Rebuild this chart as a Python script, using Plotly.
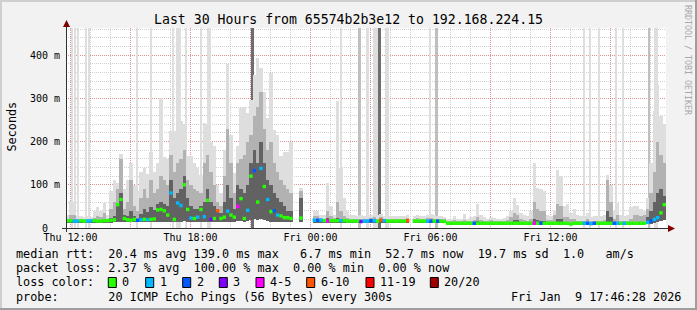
import plotly.graph_objects as go
import pandas as pd

# ---------------- data (10-minute bins, ms) ----------------
START = "2026-01-08 11:46:28"
END = "2026-01-09 17:46:28"

median_ms = [
    17, 17, 16, 16, 17, 16, 16, 17, 17, 16,
    16, 17, 17, 18, 19, 54, 66, 22, 19, 18,
    20, 18, 19, 20, 19, 20, 21, 42, 43, 40,
    30, 81, 20, 58, 52, 100, 43, 23, 22, 25,
    43, 26, 64, 20, 22, 40, 22, 25, 39, 30,
    25, 50, 68, 22, 41, 120, 133, 60, 138, 96,
    66, 38, 40, 30, 28, 24, 24, 22, None, None,
    23, None, None, None, 18, 18, 18, 17, 16, 17,
    17, 17, 17, 17, 16, 16, 16, 16, 15, 16,
    16, 17, 17, 16, 18, 17, 16, 16, 16, 16,
    16, 16, 17, None, 16, 16, 16, 16, 16, 16,
    16, 16, 16, 15, 11, 11, 11, 11, 11, 11,
    11, 11, 11, 11, 11, 11, 11, 11, 11, 11,
    11, 11, 11, 11, 11, 11, 11, 11, 11, 11,
    11, 11, 11, 11, 11, 11, 11, 11, 11, 11,
    11, 9, 11, 11, 11, 11, 11, 10, 11, 11,
    11, 11, 11, 11, 11, 11, 11, 11, 11, 11,
    11, 11, 11, 11, 13, 16, 20, 24, 35, 54,
]

loss_count = [
    0, 0, 1, 1, 0, 0, 1, 1, 0, 0,
    0, 0, 0, 0, 0, 0, 0, 0, 0, 0,
    0, 2, 1, 0, 1, 0, 0, 0, 0, 0,
    0, 1, 0, 1, 1, 0, 0, 1, 0, 1,
    0, 1, 0, 3, 0, 7, 0, 0, 1, 0,
    0, 4, 0, 0, 1, 0, 2, 0, 1, 0,
    1, 0, 2, 1, 0, 0, 0, 0, 0, 0,
    0, 0, 0, 0, 1, 2, 1, 0, 4, 0,
    0, 0, 1, 0, 0, 0, 0, 0, 3, 1,
    1, 2, 1, 0, 7, 1, 0, 0, 0, 0,
    0, 0, 6, 0, 0, 0, 0, 0, 1, 2,
    0, 2, 0, 0, 0, 0, 0, 0, 0, 0,
    0, 0, 2, 0, 0, 0, 0, 0, 0, 0,
    0, 0, 0, 0, 0, 0, 0, 0, 0, 0,
    4, 0, 2, 0, 0, 0, 0, 0, 0, 0,
    0, 0, 0, 0, 0, 1, 2, 1, 2, 0,
    0, 0, 0, 0, 2, 1, 0, 1, 0, 0,
    0, 0, 0, 0, 1, 2, 1, 1, 0, 0,
]

ping_min_ms = [
    12, 12, 12, 12, 12, 12, 12, 12, 12, 12,
    12, 12, 12, 12, 13, 14, 15, 13, 13, 13,
    13, 13, 13, 13, 13, 14, 14, 15, 15, 15,
    14, 15, 14, 15, 15, 16, 15, 14, 14, 14,
    14, 14, 15, 14, 14, 15, 13, 14, 15, 14,
    14, 16, 16, 15, 16, 18, 20, 18, 20, 18,
    16, 15, 15, 14, 14, 14, 13, 13, None, None,
    14, None, None, None, 12, 12, 12, 12, 12, 12,
    12, 12, 12, 12, 12, 12, 12, 12, 12, 12,
    12, 12, 12, 12, 12, 12, 12, 12, 12, 12,
    12, 12, 12, None, 12, 12, 12, 12, 12, 12,
    12, 12, 12, 12, 8, 8, 8, 8, 8, 8,
    8, 8, 8, 8, 8, 8, 8, 8, 8, 8,
    8, 8, 8, 8, 8, 8, 8, 8, 8, 8,
    8, 8, 8, 8, 8, 8, 8, 8, 8, 8,
    8, 8, 8, 8, 8, 8, 8, 8, 8, 8,
    8, 8, 8, 8, 8, 8, 8, 8, 8, 8,
    8, 8, 8, 8, 9, 10, 12, 14, 16, 18,
]

smoke_core_ms = [
    17, 18, 18, 16, 17, 16, 17, 17, 19, 19,
    18, 20, 17, 24, 28, 50, 80, 30, 28, 40,
    28, 22, 32, 45, 38, 48, 42, 55, 60, 55,
    50, 110, 70, 80, 90, 120, 70, 50, 45, 45,
    50, 60, 90, 60, 50, 45, 35, 60, 100, 70,
    45, 100, 90, 80, 100, 150, 180, 150, 200, 150,
    110, 100, 80, 70, 60, 50, 40, 40, None, None,
    70, None, None, None, 20, 20, 19, 18, 24, 19,
    18, 24, 22, 19, 17, 17, 17, 17, 16, 17,
    17, 18, 19, 17, 20, 18, 17, 17, 17, 17,
    17, 17, 18, None, 17, 18, 17, 17, 17, 17,
    17, 17, 17, 16, 12, 12, 13, 12, 12, 13,
    12, 12, 12, 16, 13, 12, 12, 12, 12, 12,
    12, 12, 13, 15, 18, 18, 15, 14, 13, 14,
    20, 18, 16, 16, 12, 12, 14, 22, 20, 13,
    15, 12, 14, 12, 12, 12, 13, 12, 12, 12,
    12, 12, 40, 25, 13, 15, 12, 12, 12, 14,
    15, 15, 14, 15, 25, 40, 60, 80, 90, 75,
]

smoke_mid_ms = [
    22, 30, 30, 20, 21, 20, 21, 21, 24, 28,
    25, 35, 22, 45, 60, 90, 160, 45, 60, 110,
    50, 40, 70, 90, 70, 110, 80, 90, 120, 110,
    100, 170, 130, 150, 160, 180, 110, 100, 90, 85,
    80, 150, 170, 130, 100, 60, 50, 120, 230, 150,
    80, 150, 160, 170, 200, 215, 260, 280, 316, 230,
    180, 200, 150, 130, 110, 100, 90, 80, None, None,
    85, None, None, None, 28, 27, 24, 22, 40, 28,
    24, 60, 40, 28, 24, 22, 22, 21, 22, 21,
    22, 23, 26, 22, 26, 22, 21, 21, 21, 21,
    21, 22, 24, None, 21, 23, 22, 21, 23, 24,
    22, 22, 21, 20, 16, 16, 18, 16, 16, 18,
    16, 17, 18, 25, 18, 16, 16, 18, 17, 16,
    16, 17, 18, 25, 35, 30, 22, 18, 16, 20,
    60, 45, 40, 40, 18, 18, 30, 55, 50, 25,
    25, 20, 22, 17, 17, 16, 20, 16, 16, 17,
    17, 18, 110, 60, 22, 30, 17, 17, 17, 22,
    30, 30, 28, 30, 45, 80, 130, 200, 170, 150,
]

smoke_max_ms = [
    30, 62, 60, 27, 27, 26, 27, 26, 40, 48,
    40, 58, 30, 85, 110, 105, 171, 90, 110, 150,
    100, 85, 130, 140, 125, 175, 130, 150, 300, 165,
    160, 225, 225, 220, 247, 240, 166, 166, 150, 140,
    123, 243, 240, 200, 190, 100, 80, 181, 380, 216,
    127, 189, 277, 281, 266, 297, 355, 393, 370, 316,
    254, 358, 227, 216, 166, 177, 177, 200, None, None,
    93, None, None, None, 39, 39, 30, 30, 104, 50,
    30, 293, 140, 70, 40, 30, 30, 28, 30, 28,
    28, 30, 35, 30, 32, 28, 27, 27, 27, 28,
    27, 28, 30, None, 27, 30, 28, 28, 30, 32,
    30, 28, 27, 26, 22, 22, 28, 22, 22, 32,
    22, 25, 28, 55, 30, 25, 22, 26, 24, 22,
    22, 24, 28, 40, 70, 54, 35, 30, 28, 40,
    150, 93, 90, 85, 30, 28, 40, 135, 120, 50,
    55, 35, 45, 30, 28, 27, 35, 26, 27, 28,
    28, 30, 123, 100, 40, 58, 30, 28, 30, 48,
    50, 50, 45, 40, 70, 150, 270, 331, 260, 240,
]

# 5-minute steps whose slowest pings are off the scale
spike_times = [
    "2026-01-08 12:04:28", "2026-01-08 12:13:28", "2026-01-08 12:22:28",
    "2026-01-08 12:46:28", "2026-01-08 12:55:28", "2026-01-08 15:19:28",
    "2026-01-08 16:01:28", "2026-01-08 17:07:28", "2026-01-08 17:21:28",
    "2026-01-08 17:27:28", "2026-01-08 17:46:28", "2026-01-08 18:31:28",
    "2026-01-08 18:52:28", "2026-01-08 18:58:28", "2026-01-08 21:06:28",
    "2026-01-09 01:31:28", "2026-01-09 02:27:28", "2026-01-09 02:51:28",
    "2026-01-09 03:12:28", "2026-01-09 03:18:28", "2026-01-09 03:27:28",
    "2026-01-09 03:46:28", "2026-01-09 03:51:28", "2026-01-09 05:58:28",
    "2026-01-09 06:18:28", "2026-01-09 13:40:28", "2026-01-09 13:58:28",
    "2026-01-09 14:25:28", "2026-01-09 15:16:28", "2026-01-09 15:37:28",
    "2026-01-09 16:55:28", "2026-01-09 17:13:28", "2026-01-09 17:20:28",
]
spike_max_ms = [
    500, 500, 500, 500, 500, 500, 500, 500, 500, 500, 500,
    500, 500, 500, 500, 500, 500, 500, 500, 500, 500, 500,
    500, 500, 500, 500, 500, 500, 500, 500, 500, 500, 500,
]
# how many of the 20 pings were off-scale (1 = few, 3 = most)
spike_level = [
    1, 1, 1, 1, 1, 1, 1, 1, 1, 1, 1,
    1, 1, 1, 3, 1, 2, 1, 1, 1, 3, 1,
    1, 1, 2, 1, 1, 1, 1, 1, 2, 1, 1,
]

y_ticks = [0, 100, 200, 300, 400]
y_ticktext = ["0\u00a0\u00a0", "100 m", "200 m", "300 m", "400 m"]
x_ticks = ["2026-01-08 12:00", "2026-01-08 15:00", "2026-01-08 18:00", "2026-01-08 21:00",
           "2026-01-09 00:00", "2026-01-09 03:00", "2026-01-09 06:00", "2026-01-09 09:00",
           "2026-01-09 12:00", "2026-01-09 15:00"]
x_ticktext = ["Thu 12:00", "", "Thu 18:00", "", "Fri 00:00", "", "Fri 06:00", "",
              "Fri 12:00", ""]

loss_labels = ["0", "1", "2", "3", "4-5", "6-10", "11-19", "20/20"]
loss_colors = ["#26ff00", "#00b8ff", "#0059ff", "#7e00ff", "#ff00ff", "#ff5500",
               "#ff0000", "#a10000"]

legend_lines = [
    "median rtt:  20.4 ms avg 139.0 ms max   6.7 ms min  52.7 ms now  19.7 ms sd  1.0   am/s",
    "packet loss: 2.37 % avg  100.00 % max  0.00 % min  0.00 % now",
    "loss color:",
    "probe:       20 ICMP Echo Pings (56 Bytes) every 300s",
]
stamp = "Fri Jan  9 17:46:28 2026"
title = "Last 30 Hours from 65574b2b3e12 to 192.168.224.15"

# ---------------- geometry ----------------
W, H = 697, 310
ML, MR, MT, MB = 66, 31, 28, 82
PW = W - ML - MR
PH = H - MT - MB


def px(x):
    return (x - ML) / PW


def py(y):
    return (H - MB - y) / PH


MONO = "DejaVu Sans Mono"

times = pd.date_range(pd.Timestamp(START) + pd.Timedelta(minutes=5),
                      periods=len(median_ms), freq="10min")


def height(top, base):
    return [None if (t is None or b is None) else t - b for t, b in zip(top, base)]


def bucket(n):
    if n <= 3:
        return n
    if n <= 5:
        return 4
    if n <= 10:
        return 5
    if n <= 19:
        return 6
    return 7


fig = go.Figure()

spike_colors = {1: "#dedede", 2: "#bfbfbf", 3: "#6e6e6e"}
fig.add_trace(go.Bar(
    x=pd.to_datetime(spike_times), y=spike_max_ms, base=0, width=300000,
    marker=dict(color=[spike_colors[l] for l in spike_level], line=dict(width=0)),
    hoverinfo="skip"))

for top, col in [(smoke_max_ms, "#dedede"), (smoke_mid_ms, "#b2b2b2"),
                 (smoke_core_ms, "#626262")]:
    fig.add_trace(go.Bar(
        x=times, y=height(top, ping_min_ms), base=ping_min_ms, width=610000,
        marker=dict(color=col, line=dict(width=0)), hoverinfo="skip"))

fig.add_trace(go.Scatter(
    x=times, y=median_ms, mode="markers",
    marker=dict(symbol="square", size=3.4,
                color=[loss_colors[bucket(n)] for n in loss_count], line=dict(width=0)),
    hoverinfo="skip"))

shapes = []
# 3D frame
shapes += [
    dict(type="rect", xref="paper", yref="paper", x0=px(0), x1=px(W), y0=py(0), y1=py(2),
         fillcolor="#cfcfcf", line=dict(width=0), layer="above"),
    dict(type="rect", xref="paper", yref="paper", x0=px(0), x1=px(2), y0=py(0), y1=py(H),
         fillcolor="#cfcfcf", line=dict(width=0), layer="above"),
    dict(type="rect", xref="paper", yref="paper", x0=px(0), x1=px(W), y0=py(H - 2), y1=py(H),
         fillcolor="#9e9e9e", line=dict(width=0), layer="above"),
    dict(type="rect", xref="paper", yref="paper", x0=px(W - 2), x1=px(W), y0=py(0), y1=py(H),
         fillcolor="#9e9e9e", line=dict(width=0), layer="above"),
]
# axes + arrows
AX = "#2f2f2f"
shapes += [
    dict(type="line", xref="paper", yref="paper", x0=px(62), x1=px(670), y0=py(228.5),
         y1=py(228.5), line=dict(color=AX, width=1), layer="above"),
    dict(type="line", xref="paper", yref="paper", x0=px(66.5), x1=px(66.5), y0=py(232),
         y1=py(24), line=dict(color=AX, width=1), layer="above"),
    dict(type="path", xref="paper", yref="paper",
         path=f"M {px(668)} {py(225)} L {px(675)} {py(228.5)} L {px(668)} {py(232)} Z",
         fillcolor="#7f0000", line=dict(width=0), layer="above"),
    dict(type="path", xref="paper", yref="paper",
         path=f"M {px(63)} {py(27)} L {px(66.5)} {py(20)} L {px(70)} {py(27)} Z",
         fillcolor="#7f0000", line=dict(width=0), layer="above"),
]

ann = []


def text(x, y, s, size=11.8, anchor="left", color="#000000", angle=0, yanchor="middle"):
    ann.append(dict(x=px(x), y=py(y), xref="paper", yref="paper", text=s.replace(" ", "\u00a0"),
                    showarrow=False, xanchor=anchor, yanchor=yanchor, textangle=angle,
                    borderpad=0, borderwidth=0,
                    font=dict(family=MONO, size=size, color=color)))


text(348.5, 19.5, title, size=13.2, anchor="center")
text(11.5, 127, "Seconds", size=11.8, anchor="center", angle=-90)
text(688, 60, "RRDTOOL / TOBI OETIKER", size=8.3, anchor="center", angle=90, color="#a8a8a8")

line_y = [254.3, 268.3, 282.3, 296.5]
for s, yy in zip(legend_lines, line_y):
    text(16, yy, s)
text(681, line_y[3], stamp, anchor="right")

box_x = [108.3, 145.7, 182.7, 219.3, 256.0, 306.7, 366.0, 430.3]
for bx, lab, col in zip(box_x, loss_labels, loss_colors):
    shapes.append(dict(type="rect", xref="paper", yref="paper", x0=px(bx), x1=px(bx + 8),
                       y0=py(277.5), y1=py(287.5), fillcolor=col,
                       line=dict(color="#000000", width=1), layer="above"))
    text(bx + 14, line_y[2], lab)

grid_major = "rgba(255,0,0,0.30)"
grid_minor = "rgba(128,128,128,0.36)"

fig.update_layout(
    width=W, height=H, autosize=False,
    margin=dict(l=ML, r=MR, t=MT, b=MB, pad=0, autoexpand=False),
    paper_bgcolor="#f2f2f2", plot_bgcolor="#ffffff",
    barmode="overlay", bargap=0, showlegend=False,
    shapes=shapes, annotations=ann,
    xaxis=dict(type="date", range=[START, END], tickvals=x_ticks, ticktext=x_ticktext,
               tickfont=dict(family=MONO, size=10, color="#000000"),
               showgrid=True, gridcolor=grid_major, griddash="1px,1px", gridwidth=1,
               minor=dict(dtick=3600000, tick0="2026-01-08 12:00", showgrid=True,
                          gridcolor=grid_minor, griddash="1px,1px", gridwidth=1),
               showline=False, zeroline=False, ticks="", ticklabelstandoff=2,
               fixedrange=True),
    yaxis=dict(range=[0, 463], tickvals=y_ticks, ticktext=y_ticktext,
               tickfont=dict(family=MONO, size=10, color="#000000"),
               showgrid=True, gridcolor=grid_major, griddash="1px,1px", gridwidth=1,
               minor=dict(dtick=20, tick0=0, showgrid=True, gridcolor=grid_minor,
                          griddash="1px,1px", gridwidth=1),
               showline=False, zeroline=False, ticks="", ticklabelstandoff=5,
               fixedrange=True),
)

fig.write_html("out.html")
